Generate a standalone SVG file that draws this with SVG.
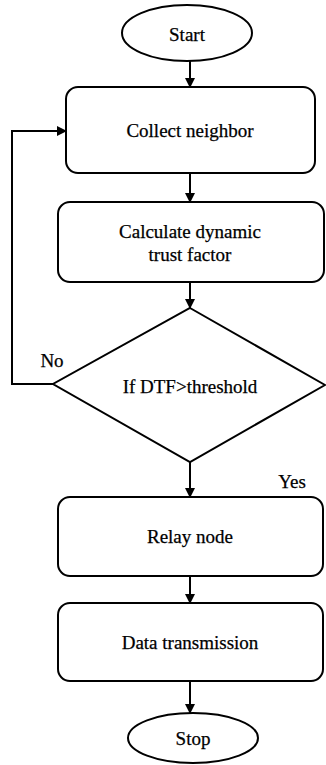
<svg xmlns="http://www.w3.org/2000/svg" width="326" height="765" viewBox="0 0 326 765">
<defs>
<marker id="ah" markerWidth="10" markerHeight="10" refX="9" refY="5" orient="auto" markerUnits="userSpaceOnUse">
<path d="M0,0 L10,5 L0,10 Z" fill="#000"/>
</marker>
<style>
.s{fill:#fff;stroke:#000;stroke-width:2}
.lbl{font-size:19px;fill:#000;stroke:#000;stroke-width:0.25;text-anchor:middle}
.c{fill:none;stroke:#000;stroke-width:2;marker-end:url(#ah)}
</style>
</defs>
<rect width="326" height="765" fill="#fff"/>
<g id="connectors">
<path class="c" d="M190,61 L190,87"/>
<path class="c" d="M190,173 L190,202"/>
<path class="c" d="M190,282 L190,308"/>
<path class="c" d="M53,384 L12,384 L12,131 L66,131"/>
<path class="c" d="M190,462 L190,497"/>
<path class="c" d="M190,576 L190,603"/>
<path class="c" d="M190,681 L190,713"/>
</g>
<g font-family="Liberation Serif">
<g id="start"><ellipse class="s" cx="187" cy="33" rx="65" ry="28"/><text class="lbl" x="187" y="41">Start</text></g>
<g id="collect"><rect class="s" x="66" y="87" width="249" height="86" rx="12"/><text class="lbl" x="190" y="137">Collect neighbor</text></g>
<g id="calc"><rect class="s" x="58" y="202" width="266" height="80" rx="12"/><text class="lbl" x="190" y="238">Calculate dynamic</text><text class="lbl" x="190" y="261">trust factor</text></g>
<g id="decision"><polygon class="s" points="190,308 325,385 190,462 53,384"/><text class="lbl" x="190" y="393">If DTF&gt;threshold</text></g>
<text class="lbl" x="52" y="367">No</text>
<text class="lbl" x="292" y="488">Yes</text>
<g id="relay"><rect class="s" x="58" y="497" width="265" height="79" rx="12"/><text class="lbl" x="190" y="543">Relay node</text></g>
<g id="data"><rect class="s" x="58" y="603" width="265" height="78" rx="12"/><text class="lbl" x="190" y="649">Data transmission</text></g>
<g id="stop"><ellipse class="s" cx="193" cy="738" rx="65" ry="25"/><text class="lbl" x="193" y="745">Stop</text></g>
</g>
</svg>
